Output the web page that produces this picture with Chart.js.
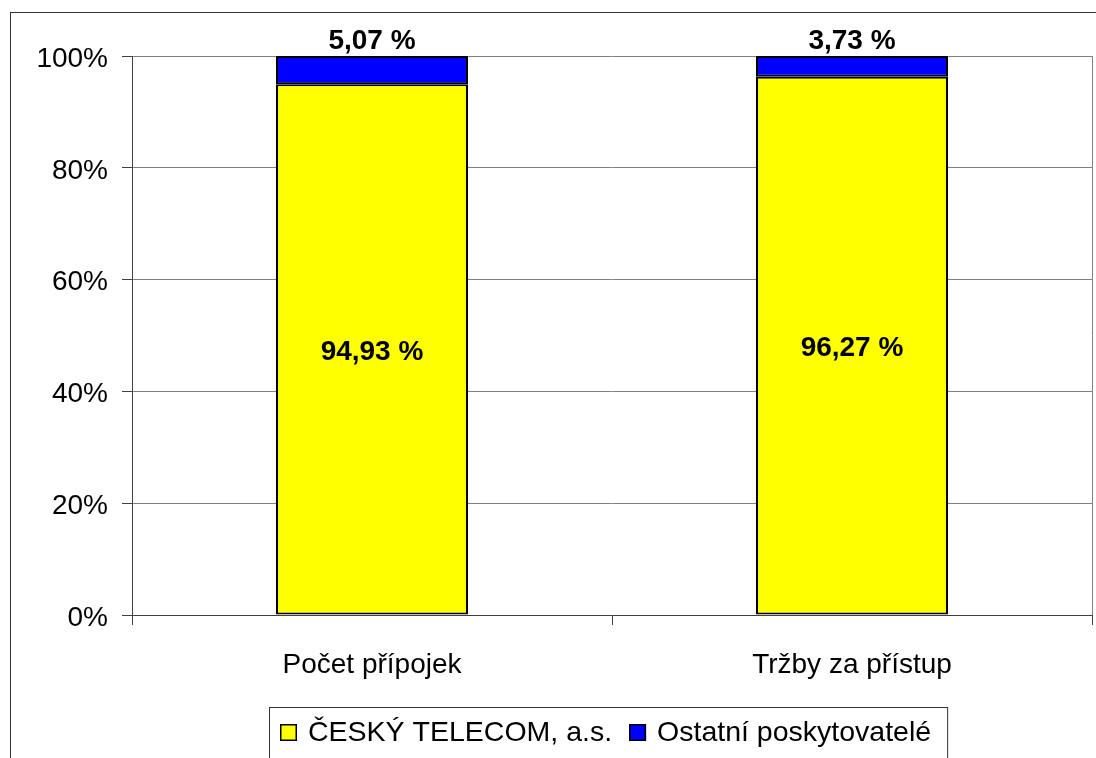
<!DOCTYPE html>
<html>
<head>
<meta charset="utf-8">
<script src="https://cdn.jsdelivr.net/npm/chart.js@4.4.1/dist/chart.umd.min.js"></script>
<style>
  html, body { margin: 0; padding: 0; background: #fff; }
  canvas { display: block; }
</style>
</head>
<body>
<canvas id="chart" width="1096" height="758"></canvas>
<script>
// Chart data
const categories = ['Počet přípojek', 'Tržby za přístup'];
const telecomShare = [94.93, 96.27];
const otherShare = [5.07, 3.73];
const seriesNames = ['ČESKÝ TELECOM, a.s.', 'Ostatní poskytovatelé'];
const yTicks = [0, 20, 40, 60, 80, 100];

const FONT = '"Liberation Sans", Arial, sans-serif';

// Format 94.93 -> "94,93 %"
function formatShare(v) {
    return v.toFixed(2).replace('.', ',') + ' %';
}

// Outer frame, plot outline, value labels and boxed legend
const decorPlugin = {
    id: 'decor',
    beforeDraw(chart) {
        const ctx = chart.ctx;
        ctx.save();
        ctx.fillStyle = '#fff';
        ctx.fillRect(0, 0, chart.width, chart.height);
        ctx.strokeStyle = '#333';
        ctx.lineWidth = 1;
        ctx.strokeRect(10.5, 12.5, 1200, 1000);
        ctx.restore();
    },
    beforeDatasetsDraw(chart) {
        const { ctx, chartArea } = chart;
        ctx.save();
        ctx.strokeStyle = '#808080';
        ctx.lineWidth = 1;
        ctx.beginPath();
        ctx.moveTo(Math.round(chartArea.right) + 0.5, chartArea.top);
        ctx.lineTo(Math.round(chartArea.right) + 0.5, chartArea.bottom);
        ctx.stroke();
        ctx.restore();
    },
    afterDatasetsDraw(chart) {
        const ctx = chart.ctx;
        ctx.save();
        ctx.font = 'bold 28px ' + FONT;
        ctx.fillStyle = '#000';
        ctx.textAlign = 'center';
        ctx.textBaseline = 'middle';
        chart.getDatasetMeta(0).data.forEach((bar, i) => {
            ctx.fillText(formatShare(telecomShare[i]), bar.x, (bar.y + bar.base) / 2 + 3);
        });
        chart.getDatasetMeta(1).data.forEach((bar, i) => {
            ctx.fillText(formatShare(otherShare[i]), bar.x, bar.y - 15);
        });

        // legend
        const left = 269, top = 707;
        const midY = 733;
        ctx.font = '28.5px ' + FONT;
        ctx.textAlign = 'left';
        let x = left + 11;
        const items = chart.data.datasets.map(ds => ({ label: ds.label, color: ds.backgroundColor }));
        const parts = [];
        items.forEach(item => {
            const p = { item, sx: x, tx: x + 28 };
            parts.push(p);
            x = p.tx + ctx.measureText(item.label).width + 17;
        });
        const right = x - 17 + 16;
        ctx.strokeStyle = '#333';
        ctx.lineWidth = 1;
        ctx.strokeRect(left + 0.5, top + 0.5, right - left, 60);
        parts.forEach(p => {
            ctx.fillStyle = p.item.color;
            ctx.fillRect(p.sx, midY - 9, 17, 17);
            ctx.strokeStyle = '#000';
            ctx.lineWidth = 1.5;
            ctx.strokeRect(p.sx + 0.75, midY - 8.25, 15.5, 15.5);
            ctx.fillStyle = '#000';
            ctx.fillText(p.item.label, p.tx, midY);
        });
        ctx.restore();
    }
};

new Chart(document.getElementById('chart'), {
    type: 'bar',
    data: {
        labels: categories,
        datasets: [
            {
                label: seriesNames[0],
                data: telecomShare,
                backgroundColor: '#FFFF00',
                borderColor: '#000',
                borderWidth: 2,
                borderSkipped: false
            },
            {
                label: seriesNames[1],
                data: otherShare,
                backgroundColor: '#0000FF',
                borderColor: '#000',
                borderWidth: 2,
                borderSkipped: false
            }
        ]
    },
    options: {
        responsive: false,
        animation: false,
        events: [],
        layout: { padding: { left: 0, right: 4, top: 56, bottom: 0 } },
        datasets: { bar: { barPercentage: 0.4, categoryPercentage: 1 } },
        plugins: {
            legend: { display: false },
            tooltip: { enabled: false }
        },
        scales: {
            x: {
                stacked: true,
                afterFit(scale) { scale.height = 143; },
                grid: {
                    offset: true,
                    drawOnChartArea: false,
                    drawTicks: true,
                    tickLength: 10,
                    tickColor: '#404040'
                },
                border: { color: '#404040', width: 1 },
                ticks: {
                    color: '#000',
                    padding: 23,
                    font: { family: FONT, size: 28 }
                }
            },
            y: {
                stacked: true,
                min: 0,
                max: 100,
                afterFit(scale) { scale.width = 132; },
                afterBuildTicks(scale) {
                    scale.ticks = yTicks.map(v => ({ value: v }));
                },
                grid: {
                    color: '#808080',
                    tickColor: '#404040',
                    tickLength: 10
                },
                border: { color: '#404040', width: 1 },
                ticks: {
                    color: '#000',
                    padding: 14,
                    labelOffset: 3,
                    font: { family: FONT, size: 28 },
                    callback: v => v + '%'
                }
            }
        }
    },
    plugins: [decorPlugin]
});
</script>
</body>
</html>
